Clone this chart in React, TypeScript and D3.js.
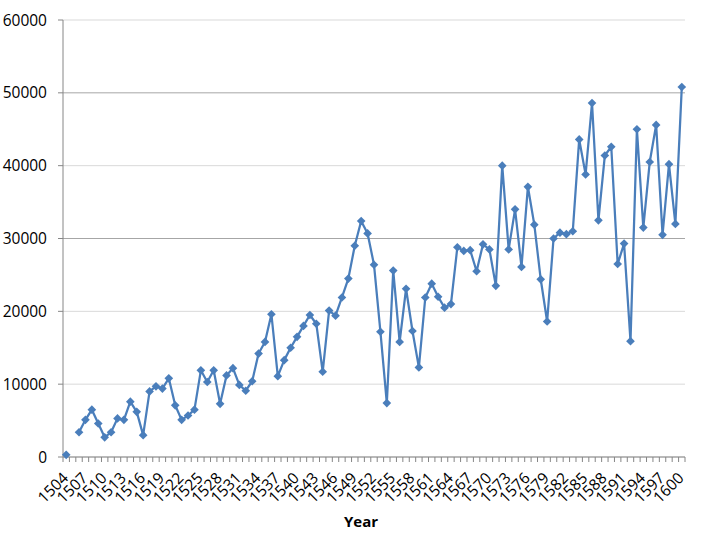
import React from "react";
import * as d3 from "d3";

const years: number[] = [
  1504, 1505, 1506, 1507, 1508, 1509, 1510, 1511, 1512, 1513, 1514, 1515, 1516, 1517, 1518, 1519,
  1520, 1521, 1522, 1523, 1524, 1525, 1526, 1527, 1528, 1529, 1530, 1531, 1532, 1533, 1534, 1535,
  1536, 1537, 1538, 1539, 1540, 1541, 1542, 1543, 1544, 1545, 1546, 1547, 1548, 1549, 1550, 1551,
  1552, 1553, 1554, 1555, 1556, 1557, 1558, 1559, 1560, 1561, 1562, 1563, 1564, 1565, 1566, 1567,
  1568, 1569, 1570, 1571, 1572, 1573, 1574, 1575, 1576, 1577, 1578, 1579, 1580, 1581, 1582, 1583,
  1584, 1585, 1586, 1587, 1588, 1589, 1590, 1591, 1592, 1593, 1594, 1595, 1596, 1597, 1598, 1599,
  1600,
];

const values: (number | null)[] = [
  300, null, 3400, 5100, 6500, 4600, 2700, 3400, 5300, 5100, 7600, 6200, 3000, 9000, 9700, 9400,
  10800, 7100, 5100, 5700, 6500, 11900, 10300, 11900, 7300, 11200, 12200, 9900, 9100, 10400, 14200, 15800,
  19600, 11100, 13300, 15000, 16500, 18000, 19500, 18300, 11700, 20100, 19400, 21900, 24500, 29000, 32400, 30700,
  26400, 17200, 7400, 25600, 15800, 23100, 17300, 12300, 21900, 23800, 22000, 20500, 21000, 28800, 28300, 28400,
  25500, 29200, 28500, 23500, 40000, 28500, 34000, 26100, 37100, 31900, 24400, 18600, 30000, 30800, 30600, 31000,
  43600, 38800, 48600, 32500, 41400, 42600, 26500, 29300, 15900, 45000, 31500, 40500, 45600, 30500, 40200, 32000,
  50800,
];

const yTicks: number[] = [0, 10000, 20000, 30000, 40000, 50000, 60000];
const xTickLabels: number[] = [
  1504, 1507, 1510, 1513, 1516, 1519, 1522, 1525, 1528, 1531, 1534, 1537, 1540, 1543, 1546, 1549,
  1552, 1555, 1558, 1561, 1564, 1567, 1570, 1573, 1576, 1579, 1582, 1585, 1588, 1591, 1594, 1597, 1600,
];
const xTitle = "Year";

const W = 720;
const H = 540;
const left = 63;
const right = 685;
const top = 20;
const bottom = 457;
const color = "#4a7ebb";
const font = "'Open Sans', 'DejaVu Sans', sans-serif";

export default function App() {
  const x = d3.scaleBand<number>().domain(years).range([left, right]).paddingInner(0).paddingOuter(0);
  const bw = x.bandwidth();
  const cx = (yr: number) => (x(yr) as number) + bw / 2;
  const y = d3.scaleLinear().domain([0, 60000]).range([bottom, top]);

  const pts = years.map((yr, i) => ({ yr, v: values[i] }));
  const line = d3
    .line<{ yr: number; v: number | null }>()
    .defined((d) => d.v !== null)
    .x((d) => cx(d.yr))
    .y((d) => y(d.v as number));

  const diamond = d3.symbol().type(d3.symbolDiamond2).size(48)();

  const boundaries = d3.range(years.length + 1).map((i) => left + i * bw);

  return (
    <svg width={W} height={H} style={{ position: "absolute", left: 0, top: 0, background: "#fff" }}>
      {yTicks.map((t) => (
        <line
          key={"g" + t}
          x1={left}
          x2={right}
          y1={y(t)}
          y2={y(t)}
          stroke={t === 30000 || t === 50000 ? "#a6a6a6" : "#d9d9d9"}
          strokeWidth={1}
        />
      ))}
      <line x1={left} x2={left} y1={top} y2={bottom} stroke="#868686" strokeWidth={1} />
      <line x1={left} x2={right} y1={bottom} y2={bottom} stroke="#868686" strokeWidth={1} />
      {yTicks.map((t) => (
        <g key={"yt" + t}>
          <line x1={left - 5} x2={left} y1={y(t)} y2={y(t)} stroke="#868686" />
          <text x={47} y={y(t)} dy="0.36em" textAnchor="end" fontFamily={font} fontSize={15.5} fill="#000">
            {t}
          </text>
        </g>
      ))}
      {boundaries.map((b, i) => (
        <line key={"xt" + i} x1={b} x2={b} y1={bottom} y2={bottom + 5} stroke="#868686" />
      ))}
      {xTickLabels.map((yr) => (
        <text
          key={"xl" + yr}
          transform={`translate(${cx(yr) + 3},${bottom + 22}) rotate(-45)`}
          textAnchor="end"
          fontFamily={font}
          fontSize={15.5}
          fill="#000"
        >
          {yr}
        </text>
      ))}
      <text x={361} y={527} textAnchor="middle" fontFamily={font} fontSize={15} fontWeight="bold" fill="#000">
        {xTitle}
      </text>
      <path d={line(pts) || ""} fill="none" stroke={color} strokeWidth={2.25} strokeLinejoin="round" />
      {pts
        .filter((d) => d.v !== null)
        .map((d) => (
          <path key={"m" + d.yr} d={diamond || ""} transform={`translate(${cx(d.yr)},${y(d.v as number)})`} fill={color} />
        ))}
    </svg>
  );
}
